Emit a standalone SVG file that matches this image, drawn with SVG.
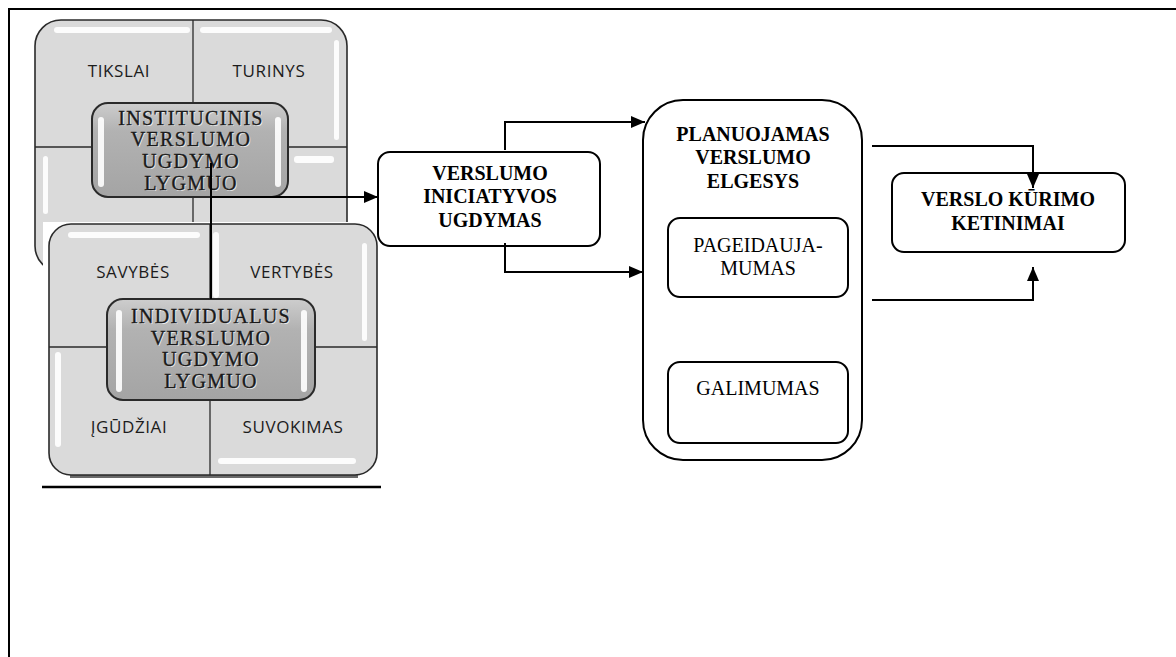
<svg xmlns="http://www.w3.org/2000/svg" width="1176" height="657" viewBox="0 0 1176 657">
<style>
.frame{stroke:#000;stroke-width:2;fill:none}
.box{fill:#fff;stroke:#000;stroke-width:2}
.b{font-family:"Liberation Serif","Times New Roman",serif;font-weight:bold;font-size:20px;fill:#000;text-anchor:middle}
.r{font-family:"Liberation Serif","Times New Roman",serif;font-size:20px;fill:#000;text-anchor:middle}
.q{font-family:"Open Sans","DejaVu Sans",sans-serif;font-size:17px;letter-spacing:0.6px;fill:#1c1c1c;text-anchor:middle}
.em{font-family:"Liberation Serif","Times New Roman",serif;font-size:20px;letter-spacing:1.3px;text-anchor:middle}
.emw{fill:#fff;opacity:0.75}
.emd{fill:#1a1a1a;stroke:#1a1a1a;stroke-width:0.35}
.panel{fill:#dadada;stroke:#2a2a2a;stroke-width:1.6}
.div{stroke:#2a2a2a;stroke-width:1.3}
.hl{fill:#fff;opacity:0.9}
.cbox{fill:url(#cg);stroke:#2a2a2a;stroke-width:2}
.conn{stroke:#000;stroke-width:2;fill:none}
</style>
<defs>
<linearGradient id="cg" x1="0" y1="0" x2="0" y2="1">
<stop offset="0" stop-color="#cdcdcd"/>
<stop offset="0.3" stop-color="#b2b2b2"/>
<stop offset="1" stop-color="#a4a4a4"/>
</linearGradient>
<marker id="ah" markerWidth="14" markerHeight="12" refX="14" refY="6" orient="auto" markerUnits="userSpaceOnUse">
<path d="M0,0 L14,6 L0,12 Z" fill="#000"/>
</marker>
</defs>
<rect width="1176" height="657" fill="#fff"/>
<g id="frame">
<path class="frame" d="M9,657 V9 H1176"/>
</g>
<g id="institucinis">
<rect class="panel" x="35" y="20" width="312" height="252" rx="26"/>
<line class="div" x1="193" y1="20" x2="193" y2="272"/>
<line class="div" x1="35" y1="147" x2="347" y2="147"/>
<rect class="hl" x="54" y="27" width="136" height="6" rx="3"/>
<rect class="hl" x="200" y="27" width="132" height="6" rx="3"/>
<rect class="hl" x="334" y="40" width="5" height="100" rx="2.5"/>
<rect class="hl" x="43" y="156" width="5" height="58" rx="2.5"/>
<rect class="hl" x="294" y="156" width="40" height="7" rx="3"/>
<text class="q" x="119" y="77">TIKSLAI</text>
<text class="q" x="269" y="77">TURINYS</text>
<rect class="cbox" x="92" y="103" width="196" height="94" rx="16"/>
<rect class="hl" x="98" y="117" width="6" height="70" rx="3"/>
<rect class="hl" x="275" y="117" width="6" height="70" rx="3"/>
<g class="em">
<text class="emw" x="192" y="126">INSTITUCINIS</text>
<text class="emw" x="192" y="147">VERSLUMO</text>
<text class="emw" x="192" y="169">UGDYMO</text>
<text class="emw" x="192" y="191">LYGMUO</text>
<text class="emd" x="191" y="125">INSTITUCINIS</text>
<text class="emd" x="191" y="146">VERSLUMO</text>
<text class="emd" x="191" y="168">UGDYMO</text>
<text class="emd" x="191" y="190">LYGMUO</text>
</g>
</g>
<g id="individualus">
<rect x="43" y="222" width="340" height="258" fill="#fff"/>
<rect x="70" y="470" width="288" height="8" fill="#6a6a6a"/>
<rect class="panel" x="49" y="224" width="328" height="251" rx="22"/>
<line class="div" x1="210" y1="224" x2="210" y2="475"/>
<line class="div" x1="49" y1="347" x2="377" y2="347"/>
<rect class="hl" x="68" y="232" width="132" height="6" rx="3"/>
<rect class="hl" x="213" y="232" width="6" height="66" rx="3"/>
<rect class="hl" x="362" y="243" width="5" height="98" rx="2.5"/>
<rect class="hl" x="55" y="352" width="6" height="95" rx="3"/>
<rect class="hl" x="218" y="458" width="138" height="6" rx="3"/>
<text class="q" x="133" y="278">SAVYBĖS</text>
<text class="q" x="292" y="278">VERTYBĖS</text>
<text class="q" x="129" y="433">ĮGŪDŽIAI</text>
<text class="q" x="293" y="433">SUVOKIMAS</text>
<rect class="cbox" x="107" y="299" width="208" height="101" rx="16"/>
<rect class="hl" x="116" y="310" width="6" height="82" rx="3"/>
<rect class="hl" x="301" y="310" width="6" height="82" rx="3"/>
<g class="em">
<text class="emw" x="212" y="324">INDIVIDUALUS</text>
<text class="emw" x="212" y="346">VERSLUMO</text>
<text class="emw" x="212" y="367">UGDYMO</text>
<text class="emw" x="212" y="389">LYGMUO</text>
<text class="emd" x="211" y="323">INDIVIDUALUS</text>
<text class="emd" x="211" y="345">VERSLUMO</text>
<text class="emd" x="211" y="366">UGDYMO</text>
<text class="emd" x="211" y="388">LYGMUO</text>
</g>
<line x1="42" y1="487" x2="381" y2="487" stroke="#000" stroke-width="2.5"/>
</g>
<g id="iniciatyvos">
<rect class="box" x="378" y="152" width="222" height="94" rx="12"/>
<text class="b" x="490" y="180">VERSLUMO</text>
<text class="b" x="490" y="203">INICIATYVOS</text>
<text class="b" x="490" y="227">UGDYMAS</text>
</g>
<g id="planuojamas">
<rect class="box" x="643" y="100" width="219" height="360" rx="40"/>
<text class="b" x="753" y="141">PLANUOJAMAS</text>
<text class="b" x="753" y="164">VERSLUMO</text>
<text class="b" x="753" y="188">ELGESYS</text>
</g>
<g id="pageidaujamumas">
<rect class="box" x="668" y="218" width="180" height="79" rx="12"/>
<text class="r" x="758" y="252">PAGEIDAUJA-</text>
<text class="r" x="758" y="275">MUMAS</text>
</g>
<g id="galimumas">
<rect class="box" x="668" y="362" width="180" height="81" rx="12"/>
<text class="r" x="758" y="395">GALIMUMAS</text>
</g>
<g id="ketinimai">
<rect class="box" x="892" y="173" width="233" height="79" rx="12"/>
<text class="b" x="1008" y="206">VERSLO KŪRIMO</text>
<text class="b" x="1008" y="230">KETINIMAI</text>
</g>
<g id="connectors">
<line class="conn" x1="211" y1="163" x2="211" y2="299"/>
<path class="conn" d="M211,197 H378" marker-end="url(#ah)"/>
<path class="conn" d="M505,150 V122 H645" marker-end="url(#ah)"/>
<path class="conn" d="M505,243 V272 H643" marker-end="url(#ah)"/>
<path class="conn" d="M872,146 H1033 V188" marker-end="url(#ah)"/>
<path class="conn" d="M872,300 H1033 V267" marker-end="url(#ah)"/>
</g>
</svg>
